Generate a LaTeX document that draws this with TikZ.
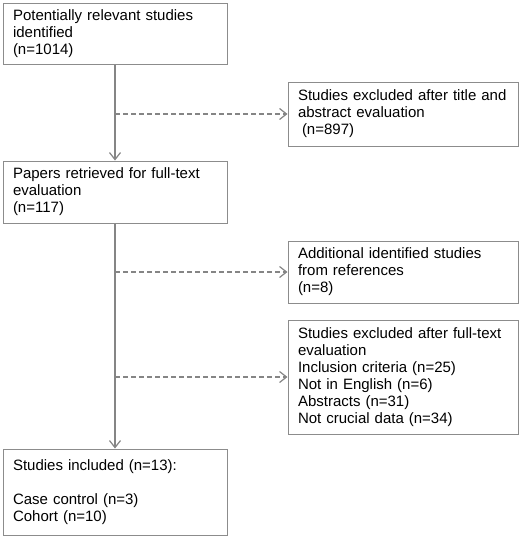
\documentclass[tikz,border=0pt]{standalone}
\usepackage{fontspec}
\setmainfont{Liberation Sans}
\usetikzlibrary{arrows.meta}
\definecolor{boxgray}{HTML}{8C8C8C}
\definecolor{linegray}{HTML}{858585}
\begin{document}
\begin{tikzpicture}[x=1pt,y=-1pt,
		box/.style={draw=boxgray,line width=1pt,rectangle,align=left,inner xsep=10pt,inner ysep=0pt,font=\fontsize{15}{17}\selectfont},
		leftbox/.style={box,text width=204pt,minimum width=224pt},
		rightbox/.style={box,text width=210pt,minimum width=230pt},
		flow/.style={draw=linegray,line width=1.2pt,-{Straight Barb[length=7pt,width=11pt]}},
		side/.style={flow,dash pattern=on 5pt off 3pt}]
		\useasboundingbox (0,0) rectangle (520,538);
		
		\node[leftbox,minimum height=61pt] (found) at (115,33.5) {Potentially relevant studies\\identified\\(n=1014)};
		\node[leftbox,minimum height=62pt] (papers) at (115,192) {Papers retrieved for full-text\\evaluation\\(n=117)};
		\node[leftbox,minimum height=86pt] (incl) at (115,492) {Studies included (n=13):\\[17pt]Case control (n=3)\\Cohort (n=10)};
		
		\node[rightbox,minimum height=64pt] (title) at (403,114) {Studies excluded after title and\\abstract evaluation\\\hspace*{4pt}(n=897)};
		\node[rightbox,minimum height=62pt] (refs) at (403,272) {Additional identified studies\\from references\\(n=8)};
		\node[rightbox,minimum height=114pt] (full) at (403,377) {Studies excluded after full-text\\evaluation\\Inclusion criteria (n=25)\\Not in English (n=6)\\Abstracts (n=31)\\Not crucial data (n=34)};
		
		\draw[flow] (found) -- (papers);
		\draw[flow] (papers) -- (incl);
		
		\draw[side] (found.south |- title.west) -- (title.west);
		\draw[side] (papers.south |- refs.west) -- (refs.west);
		\draw[side] (papers.south |- full.west) -- (full.west);
\end{tikzpicture}
\end{document}
